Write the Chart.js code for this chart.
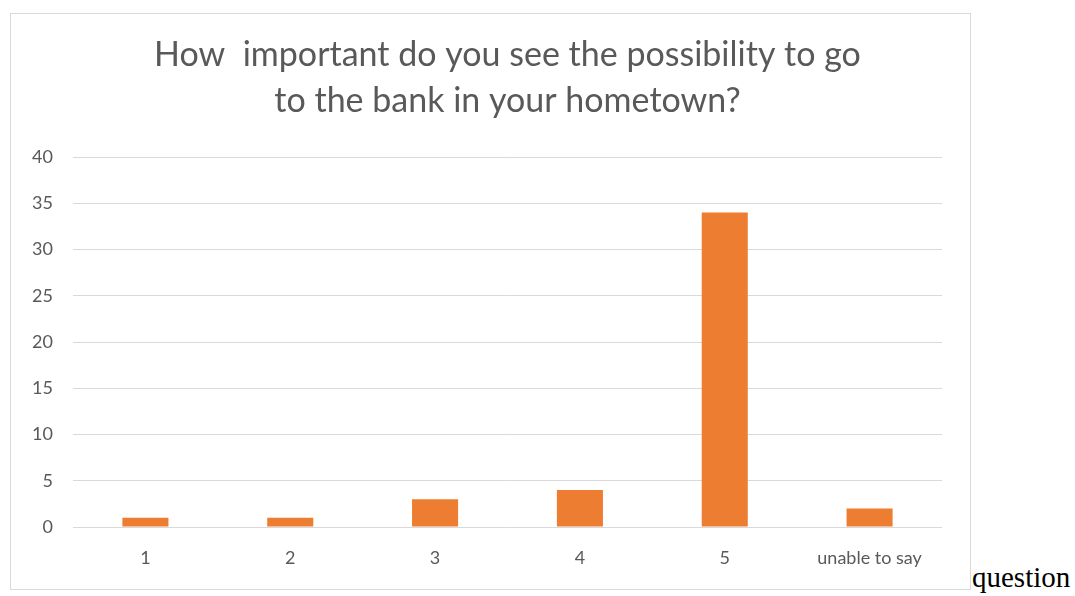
<!DOCTYPE html>
<html>
<head>
<meta charset="utf-8">
<script src="https://cdn.jsdelivr.net/npm/chart.js@4/dist/chart.umd.min.js"></script>
<style>
  body { margin: 0; background: #fff; }
  #box {
    position: absolute; left: 10px; top: 13px;
    width: 959px; height: 575px;
    border: 1px solid #d9d9d9;
  }
  #after {
    position: absolute; left: 972px; top: 560px;
    font-family: "Liberation Serif", serif; font-size: 29px; color: #000;
    line-height: 34px;
  }
</style>
</head>
<body>
<div id="box"><canvas id="chart" width="959" height="575"></canvas></div>
<span id="after">question</span>
<script>
const categories = ['1', '2', '3', '4', '5', 'unable to say'];
const answers = [1, 1, 3, 4, 34, 2];
const yTicks = [0, 5, 10, 15, 20, 25, 30, 35, 40];
const titleLines = ['How  important do you see the possibility to go', 'to the bank in your hometown?'];

const textColor = '#595959';
const gridColor = '#d9d9d9';

// title drawn above the plot, centred on the plot area
const plotTitle = {
  id: 'plotTitle',
  afterDraw(chart) {
    const { ctx, chartArea } = chart;
    const cx = (chartArea.left + chartArea.right) / 2;
    ctx.save();
    ctx.fillStyle = textColor;
    ctx.font = '34px Lato';
    ctx.textAlign = 'center';
    ctx.textBaseline = 'alphabetic';
    titleLines.forEach((line, i) => ctx.fillText(line, cx, 52 + i * 46));
    ctx.restore();
  }
};

new Chart(document.getElementById('chart'), {
  type: 'bar',
  data: {
    labels: categories,
    datasets: [{
      data: answers,
      backgroundColor: '#ED7D31',
      borderWidth: 0,
      barPercentage: 0.318,
      categoryPercentage: 1
    }]
  },
  options: {
    responsive: false,
    animation: false,
    layout: { padding: { top: 143, right: 28, left: 0, bottom: 0 } },
    plugins: {
      legend: { display: false },
      tooltip: { enabled: false }
    },
    scales: {
      x: {
        grid: { display: false },
        border: { display: false },
        ticks: { color: textColor, font: { family: 'Lato', size: 18 }, padding: 12, maxRotation: 0 },
        afterFit(scale) { scale.height = 62; }
      },
      y: {
        min: 0,
        max: 40,
        afterBuildTicks(scale) { scale.ticks = yTicks.map(v => ({ value: v })); },
        grid: { color: gridColor, lineWidth: 1, drawTicks: false },
        border: { display: false },
        ticks: { color: textColor, font: { family: 'Lato', size: 18 }, padding: 20 },
        afterFit(scale) { scale.width = 62; }
      }
    }
  },
  plugins: [plotTitle]
});
</script>
</body>
</html>
